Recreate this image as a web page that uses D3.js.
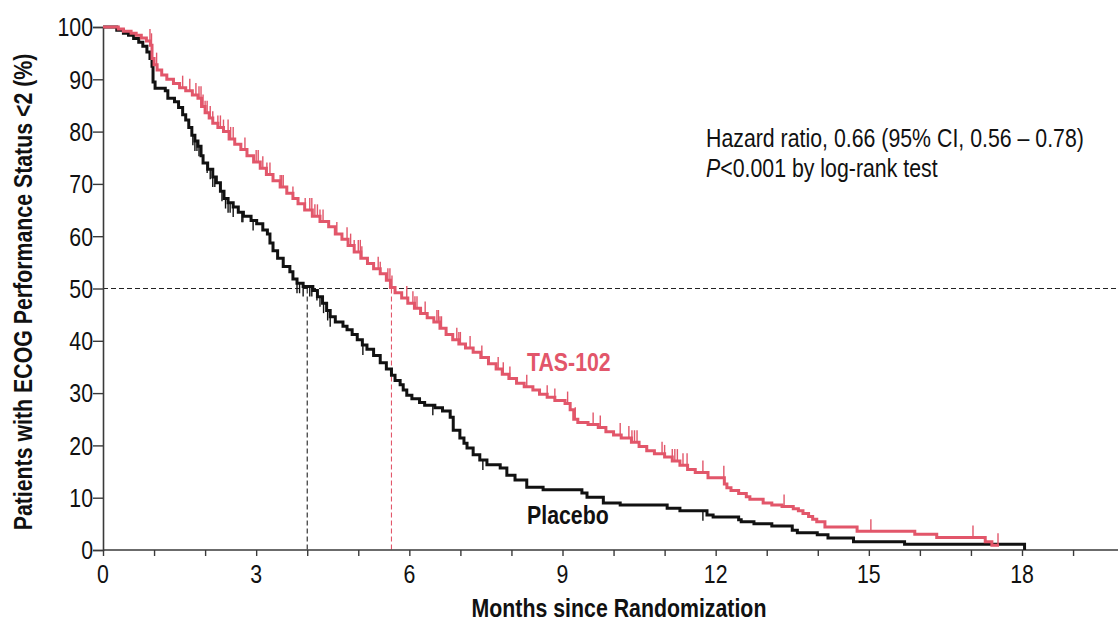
<!DOCTYPE html>
<html>
<head>
<meta charset="utf-8">
<script src="https://cdn.jsdelivr.net/npm/d3@7"></script>
<style>
  html, body { margin: 0; padding: 0; background: #fff; }
  svg { display: block; }
  text { font-family: "Liberation Sans", Arial, sans-serif; }
</style>
</head>
<body>
<svg id="chart" width="1118" height="624"></svg>
<script>
// Kaplan-Meier step knots: [month, % still ECOG PS <2] — value holds from that month on
const tasKnots = [
  [0,100],[0.3,99.6],[0.4,99.2],[0.55,98.8],[0.65,98.4],[0.75,97.9],[0.85,97.3],[0.93,96.5],
  [0.96,94],[1.0,92.8],[1.06,91.8],[1.15,90.8],[1.25,90],[1.38,89.2],[1.5,88.4],[1.62,87.8],
  [1.75,87],[1.86,86.4],[1.93,84.8],[2.0,83.6],[2.08,82.6],[2.15,81.6],[2.25,80.8],[2.36,80],
  [2.47,78.6],[2.58,77.6],[2.7,76.6],[2.82,75.4],[2.95,74.2],[3.08,73],[3.2,71.8],[3.33,70.6],
  [3.47,69.4],[3.6,68.2],[3.72,67.2],[3.82,66.2],[3.95,65],[4.1,63.8],[4.25,62.8],[4.42,61.8],
  [4.55,60.4],[4.68,59.4],[4.8,58.2],[4.92,57],[5.05,55.8],[5.18,54.8],[5.3,53.8],[5.43,52.8],
  [5.55,51.6],[5.63,50.2],[5.72,49.2],[5.85,48.2],[5.97,47.2],[6.1,46.2],[6.22,45.2],[6.35,44.4],
  [6.48,43.6],[6.6,42.4],[6.72,41.2],[6.85,40.2],[6.97,39.4],[7.1,38.6],[7.25,37.8],[7.4,36.8],
  [7.55,35.6],[7.7,34.6],[7.82,33.6],[7.95,32.8],[8.1,31.9],[8.25,31.2],[8.42,30.6],[8.55,29.8],
  [8.7,29.2],[8.85,28.6],[9.05,28],[9.15,26.8],[9.22,25],[9.3,24.4],[9.5,24],[9.7,23.4],
  [9.85,22.6],[10.0,22],[10.15,21.4],[10.35,20.6],[10.5,19.8],[10.65,19],[10.8,18.4],[11.0,17.8],
  [11.15,17],[11.3,16.2],[11.45,15.4],[11.6,14.8],[11.85,13.8],[12.17,12.6],[12.22,11.9],[12.3,11.4],
  [12.45,10.8],[12.6,10.2],[12.67,9.7],[12.93,9.0],[13.1,8.6],[13.3,8.3],[13.52,7.9],[13.62,7.5],
  [13.71,7.0],[13.82,6.4],[13.9,5.9],[13.98,5.4],[14.14,4.4],[14.77,3.6],[15.9,3.0],[16.33,2.4],
  [17.28,1.6],[17.41,0.9],[17.55,0.9]
];

const placeboKnots = [
  [0,100],[0.27,99.4],[0.4,98.8],[0.5,98.4],[0.6,97.8],[0.7,97.1],[0.78,96.3],[0.86,95.2],
  [0.92,94],[0.96,92.5],[0.98,89.5],[1.02,88.3],[1.22,87.8],[1.27,86.4],[1.4,85.7],[1.48,84.6],
  [1.56,83.2],[1.62,82.2],[1.68,80.8],[1.74,79.3],[1.8,78.2],[1.86,77.2],[1.92,75.4],[1.96,74],
  [2.05,72.8],[2.15,71.3],[2.22,70.2],[2.3,68.6],[2.37,67.2],[2.45,66.4],[2.55,65.6],[2.65,64.6],
  [2.75,63.8],[2.9,63.0],[3.01,62.4],[3.13,61.2],[3.22,60.4],[3.27,58.7],[3.33,57.2],[3.42,55.8],
  [3.53,54.2],[3.66,53.2],[3.72,51.8],[3.8,51],[3.92,50.4],[4.11,49.6],[4.2,48.4],[4.3,47.2],
  [4.38,45.8],[4.45,44.6],[4.55,43.6],[4.7,42.8],[4.78,42.1],[4.88,41.2],[4.98,40.2],[5.08,39.2],
  [5.17,38.4],[5.3,37.2],[5.43,35.8],[5.55,34.6],[5.65,33.4],[5.72,32.4],[5.82,31.6],[5.88,30.6],
  [5.95,29.6],[6.05,28.9],[6.2,28.2],[6.3,27.7],[6.5,27.2],[6.65,26.6],[6.8,25.4],[6.86,22.9],
  [6.99,21.4],[7.07,20.4],[7.13,19.5],[7.25,18.2],[7.38,17.2],[7.52,16.3],[7.78,15.7],[7.91,14.3],
  [8.07,13.4],[8.3,12.0],[8.62,11.5],[9.38,10.9],[9.48,10.1],[9.8,9.0],[10.13,8.6],[11.05,8.0],
  [11.3,7.5],[11.83,6.7],[11.95,6.3],[12.45,5.8],[12.5,5.4],[12.75,5.0],[13.1,4.6],[13.5,3.8],
  [13.6,3.3],[13.99,2.9],[14.2,2.3],[14.7,1.6],[15.7,1.1],[18.05,0]
];

// Censoring times (months)
const tasCensored = [
  0.92, 0.95, 1.05, 1.56, 1.7, 1.82, 1.88, 1.92, 1.96, 2.0, 2.04, 2.1, 2.15, 2.25, 2.3, 2.36,
  2.45, 2.5, 2.55, 2.78, 3.0, 3.04, 3.13, 3.21, 3.27, 3.47, 3.5, 3.53, 3.72, 3.96, 4.05, 4.09,
  4.15, 4.2, 4.25, 4.31, 4.58, 4.78, 4.85, 4.92, 5.0, 5.04, 5.07, 5.39, 5.43, 5.58, 5.62, 5.66,
  5.95, 6.07, 6.11, 6.15, 6.31, 6.54, 6.57, 6.6, 6.63, 6.93, 6.97, 7.0, 7.19, 7.42, 7.74, 7.84,
  7.97, 8.3, 8.7, 8.85, 9.1, 9.25, 9.6, 9.74, 10.13, 10.3, 10.36, 10.41, 10.46, 10.95, 11.0,
  11.15, 11.2, 11.25, 11.36, 11.44, 11.75, 12.16, 13.34, 15.04, 17.04, 17.53
];
const placeboCensored = [
  1.76, 1.8, 1.84, 1.88, 2.04, 2.1, 2.15, 2.19, 2.33, 2.4, 2.45, 2.49, 2.55, 2.72, 2.74, 2.94,
  3.8, 3.85, 3.92, 4.05, 4.09, 4.19, 4.25, 4.32, 4.4, 4.45, 5.09, 6.46, 7.44, 11.75
];

// Median times (months) at 50%
const medianPlacebo = 4.0;
const medianTas = 5.65;

const xLabelMonths = [0, 3, 6, 9, 12, 15, 18];
const xMinorMonths = d3.range(0, 20);
const yTickValues = [0, 10, 20, 30, 40, 50, 60, 70, 80, 90, 100];

const RED = "#e2566a";
const BLACK = "#111";
const AXIS = "#3a3a3a";
const NARROW = 0.82;   // horizontal squeeze giving a condensed face

const svg = d3.select("#chart");

const x = d3.scaleLinear().domain([0, 18]).range([103, 1022]);
const y = d3.scaleLinear().domain([0, 100]).range([550, 27]);

// step value at a given month
function valueAt(knots, t) {
  const i = d3.bisector(d => d[0]).right(knots, t) - 1;
  return knots[Math.max(0, i)][1];
}

// place a condensed text at (px, py), optionally rotated
function placeText(sel, px, py, rot) {
  return sel.attr("transform",
    `translate(${px},${py})` + (rot ? ` rotate(${rot})` : "") + ` scale(${NARROW},1)`);
}

// Reference line at 50% and median drop lines
svg.append("line")
  .attr("x1", x(0)).attr("x2", 1118)
  .attr("y1", y(50)).attr("y2", y(50))
  .attr("stroke", "#222").attr("stroke-width", 1.1)
  .attr("stroke-dasharray", "5,3");

svg.append("line")
  .attr("x1", x(medianPlacebo)).attr("x2", x(medianPlacebo))
  .attr("y1", y(50)).attr("y2", y(0))
  .attr("stroke", "#222").attr("stroke-width", 1.1)
  .attr("stroke-dasharray", "5,3");

svg.append("line")
  .attr("x1", x(medianTas)).attr("x2", x(medianTas))
  .attr("y1", y(50)).attr("y2", y(0))
  .attr("stroke", RED).attr("stroke-width", 1.1)
  .attr("stroke-dasharray", "5,3");

// Y axis: line and ticks from d3, labels drawn condensed
const yAxis = d3.axisLeft(y).tickValues(yTickValues).tickSize(10).tickFormat("");
const gy = svg.append("g").attr("transform", `translate(${x(0)},0)`).call(yAxis);
gy.select(".domain").attr("stroke", AXIS).attr("stroke-width", 1.6);
gy.selectAll(".tick line").attr("stroke", AXIS).attr("stroke-width", 1.4);

svg.append("g").selectAll("text")
  .data(yTickValues)
  .join("text")
  .attr("text-anchor", "end")
  .attr("font-size", 26).attr("fill", "#111")
  .text(d => d)
  .each(function (d) { placeText(d3.select(this), 93, y(d) + 9.3); });

// X axis: minor month ticks, labels every 3 months
const xAxis = d3.axisBottom(x).tickValues(xMinorMonths).tickSize(6).tickFormat("");
const gx = svg.append("g").attr("transform", `translate(0,${y(0)})`).call(xAxis);
gx.select(".domain").remove();
gx.selectAll(".tick line").attr("stroke", AXIS).attr("stroke-width", 1.4);
gx.append("line")
  .attr("x1", x(0)).attr("x2", 1118).attr("y1", 0).attr("y2", 0)
  .attr("stroke", AXIS).attr("stroke-width", 1.6);

svg.append("g").selectAll("text")
  .data(xLabelMonths)
  .join("text")
  .attr("text-anchor", "middle")
  .attr("font-size", 26).attr("fill", "#111")
  .text(d => d)
  .each(function (d) { placeText(d3.select(this), x(d), 583); });

// Curves
const line = d3.line()
  .x(d => x(d[0])).y(d => y(d[1]))
  .curve(d3.curveStepAfter);

svg.append("path").datum(placeboKnots)
  .attr("d", line).attr("fill", "none")
  .attr("stroke", BLACK).attr("stroke-width", 3).attr("stroke-linejoin", "miter");

svg.append("path").datum(tasKnots)
  .attr("d", line).attr("fill", "none")
  .attr("stroke", RED).attr("stroke-width", 3).attr("stroke-linejoin", "miter");

// Censor marks: TAS-102 ticks rise above the curve, placebo ticks hang below
svg.append("g").selectAll("line")
  .data(tasCensored)
  .join("line")
  .attr("x1", d => x(d)).attr("x2", d => x(d))
  .attr("y1", d => y(valueAt(tasKnots, d)))
  .attr("y2", d => y(valueAt(tasKnots, d)) - 12)
  .attr("stroke", RED).attr("stroke-width", 1.4);

svg.append("g").selectAll("line")
  .data(placeboCensored)
  .join("line")
  .attr("x1", d => x(d)).attr("x2", d => x(d))
  .attr("y1", d => y(valueAt(placeboKnots, d)))
  .attr("y2", d => y(valueAt(placeboKnots, d)) + 10)
  .attr("stroke", BLACK).attr("stroke-width", 1.4);

// Series labels
placeText(svg.append("text")
  .attr("font-size", 26).attr("font-weight", "bold").attr("fill", RED)
  .text("TAS-102"), 527, 371);

placeText(svg.append("text")
  .attr("font-size", 26).attr("font-weight", "bold").attr("fill", "#111")
  .text("Placebo"), 527, 524);

// Statistics annotation
placeText(svg.append("text")
  .attr("font-size", 26).attr("fill", "#111")
  .text("Hazard ratio, 0.66 (95% CI, 0.56 \u2013 0.78)"), 706, 147);

const pLine = svg.append("text")
  .attr("font-size", 26).attr("fill", "#111");
pLine.append("tspan").attr("font-style", "italic").text("P");
pLine.append("tspan").text("<0.001 by log-rank test");
placeText(pLine, 706, 177);

// Axis titles
placeText(svg.append("text")
  .attr("text-anchor", "middle")
  .attr("font-size", 26).attr("font-weight", "bold").attr("fill", "#111")
  .text("Months since Randomization"), 619, 617);

placeText(svg.append("text")
  .attr("text-anchor", "middle")
  .attr("font-size", 26).attr("font-weight", "bold").attr("fill", "#111")
  .text("Patients with ECOG Performance Status <2 (%)"), 32, 292, -90);
</script>
</body>
</html>
